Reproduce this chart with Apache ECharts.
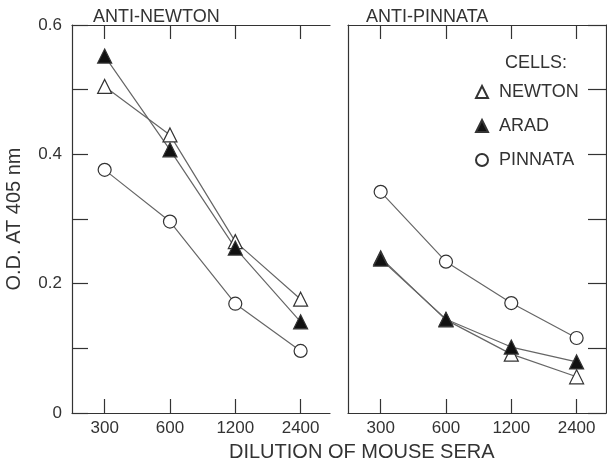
<!DOCTYPE html>
<html lang="en">
  <head>
    <meta charset="UTF-8" />
    <title>O.D. at 405 nm vs dilution</title>
    <script src="https://cdn.jsdelivr.net/npm/echarts@6.0.0/dist/echarts.min.js"></script>
    <style>
      body {
        margin: 0;
        padding: 0;
        background: #fff;
      }
      #main {
        width: 607px;
        height: 463px;
      }
    </style>
  </head>
  <body>
    <div id="main"></div>

    <script>
      // dilution categories (positions 0..3 on the x axis)
      const dilutions = ["300", "600", "1200", "2400"];
      const yTickLabels = [0, 0.2, 0.4, 0.6];

      // anti-Newton serum
      const antiNewtonNewton = [0.505, 0.43, 0.265, 0.176];
      const antiNewtonArad = [0.552, 0.407, 0.255, 0.141];
      const antiNewtonPinnata = [0.376, 0.296, 0.169, 0.096];

      // anti-Pinnata serum
      const antiPinnataNewton = [0.24, 0.144, 0.091, 0.056];
      const antiPinnataArad = [0.238, 0.145, 0.102, 0.079];
      const antiPinnataPinnata = [0.342, 0.234, 0.17, 0.116];

      const ink = "#333";
      const lineInk = "#666";
      const font = "Liberation Sans";

      function pairs(values) {
        return values.map((v, i) => [i, v]);
      }

      function makeSeries(name, values, grid, symbol, filled) {
        return {
          name: name,
          type: "line",
          xAxisIndex: grid * 2,
          yAxisIndex: grid * 2,
          data: pairs(values),
          symbol: symbol,
          symbolSize: symbol === "circle" ? 13 : 14,
          lineStyle: { color: lineInk, width: 1.2 },
          itemStyle: {
            color: filled ? "#111" : "#fff",
            borderColor: "#333",
            borderWidth: 1.2,
          },
          emphasis: { disabled: true },
          animation: false,
        };
      }

      function xAxesFor(grid) {
        return [
          {
            type: "value",
            gridIndex: grid,
            position: "bottom",
            min: -0.5,
            max: 3.45,
            axisLine: { show: true, onZero: false, lineStyle: { color: ink, width: 1.2 } },
            axisTick: {
              show: true,
              inside: true,
              length: 14,
              customValues: [0, 1, 2, 3],
              lineStyle: { color: ink, width: 1.2 },
            },
            axisLabel: {
              customValues: [0, 1, 2, 3],
              formatter: (v) => dilutions[Math.round(v)],
              color: ink,
              fontFamily: font,
              fontSize: 17,
              margin: 7,
            },
            splitLine: { show: false },
          },
          {
            type: "value",
            gridIndex: grid,
            position: "top",
            min: -0.5,
            max: 3.45,
            axisLine: { show: true, onZero: false, lineStyle: { color: ink, width: 1.2 } },
            axisTick: {
              show: true,
              inside: true,
              length: 14,
              customValues: [0, 1, 2, 3],
              lineStyle: { color: ink, width: 1.2 },
            },
            axisLabel: { show: false },
            splitLine: { show: false },
          },
        ];
      }

      const titleStyle = { color: ink, fontFamily: font, fontSize: 18, fontWeight: "normal" };

      const chart = echarts.init(document.getElementById("main"));
      const option = {
        backgroundColor: "#fff",
        animation: false,
        title: [
          { text: "ANTI-NEWTON", left: 88, top: 3, textStyle: titleStyle },
          { text: "ANTI-PINNATA", left: 361, top: 3, textStyle: titleStyle },
          { text: "CELLS:", left: 500, top: 49, textStyle: titleStyle },
          {
            text: "DILUTION OF MOUSE SERA",
            left: 224,
            top: 437,
            textStyle: { ...titleStyle, fontSize: 20 },
          },
        ],
        legend: {
          orient: "vertical",
          left: 470,
          top: 78,
          itemWidth: 12,
          itemHeight: 12,
          itemGap: 16,
          textStyle: { color: ink, fontFamily: font, fontSize: 18, padding: [0, 0, 0, 6] },
          selectedMode: false,
          data: [
            { name: "NEWTON", icon: "triangle" },
            { name: "ARAD", icon: "triangle" },
            { name: "PINNATA", icon: "circle" },
          ],
        },
        grid: [
          { left: 72, top: 25, width: 258, height: 388 },
          { left: 348, top: 25, width: 258, height: 388 },
        ],
        xAxis: [...xAxesFor(0), ...xAxesFor(1)],
        yAxis: [
          {
            type: "value",
            gridIndex: 0,
            position: "left",
            min: 0,
            max: 0.6,
            interval: 0.1,
            name: "O.D. AT 405 nm",
            nameLocation: "middle",
            nameGap: 48,
            nameTextStyle: { color: ink, fontFamily: font, fontSize: 20 },
            axisLine: { show: true, onZero: false, lineStyle: { color: ink, width: 1.2 } },
            axisTick: { show: true, inside: true, length: 16, lineStyle: { color: ink, width: 1.2 } },
            axisLabel: {
              customValues: yTickLabels,
              formatter: (v) => (v === 0 ? "0" : v.toFixed(1)),
              color: ink,
              fontFamily: font,
              fontSize: 17,
              margin: 10,
            },
            splitLine: { show: false },
          },
          {
            type: "value",
            gridIndex: 0,
            position: "right",
            min: 0,
            max: 0.6,
            show: false,
          },
          {
            type: "value",
            gridIndex: 1,
            position: "left",
            min: 0,
            max: 0.6,
            interval: 0.1,
            axisLine: { show: true, onZero: false, lineStyle: { color: ink, width: 1.2 } },
            axisTick: { show: false },
            axisLabel: { show: false },
            splitLine: { show: false },
          },
          {
            type: "value",
            gridIndex: 1,
            position: "right",
            min: 0,
            max: 0.6,
            interval: 0.1,
            axisLine: { show: true, onZero: false, lineStyle: { color: ink, width: 1.2 } },
            axisTick: { show: true, inside: true, length: 18, lineStyle: { color: ink, width: 1.2 } },
            axisLabel: { show: false },
            splitLine: { show: false },
          },
        ],
        series: [
          makeSeries("PINNATA", antiNewtonPinnata, 0, "circle", false),
          makeSeries("NEWTON", antiNewtonNewton, 0, "triangle", false),
          makeSeries("ARAD", antiNewtonArad, 0, "triangle", true),
          makeSeries("PINNATA", antiPinnataPinnata, 1, "circle", false),
          makeSeries("NEWTON", antiPinnataNewton, 1, "triangle", false),
          makeSeries("ARAD", antiPinnataArad, 1, "triangle", true),
        ],
      };

      chart.setOption(option);
    </script>
  </body>
</html>
